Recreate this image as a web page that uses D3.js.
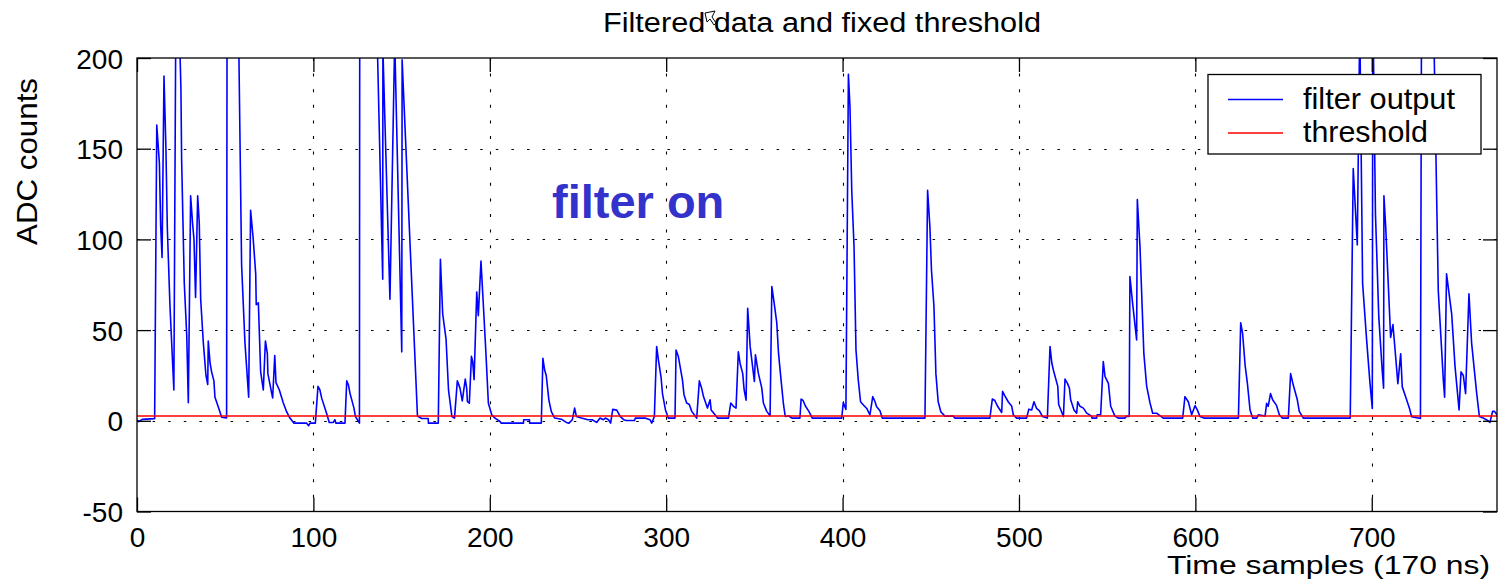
<!DOCTYPE html>
<html>
<head>
<meta charset="utf-8">
<script src="https://cdn.jsdelivr.net/npm/d3@7"></script>
<style>
  html, body { margin: 0; padding: 0; background: #fff; }
  svg { display: block; font-family: "Liberation Sans", Arial, Helvetica, sans-serif; }
</style>
</head>
<body>
<svg id="chart" width="1501" height="583"></svg>
<script>
// Filter output trace: vertices of the polyline (sample index, ADC counts).
// Pulses that saturate past the axis limit are listed above 200 and clipped.
const sampleIdx = [
  0, 1, 3, 10, 11.2, 12.7, 13.4, 14.2, 15.3, 16.4, 17.2, 18.7, 20.9,
  22.1, 23.4, 24.9, 25.3, 26.8, 28.2, 29.1, 30.4, 31.5, 32.3, 33.2,
  34.4, 35.3, 36.1, 37.6, 39.1, 40.1, 40.4, 41.4, 42.3, 43.6, 44.2, 46.1, 48, 50.8,
  51.1, 57, 59.3, 61.2, 63.3, 64.4, 65.9, 67.3, 67.6, 68.8, 70.1, 71.6, 72.8, 73.9,
  74.2, 76.4, 76.9, 78.1, 78.8, 80.7, 82.9, 84.8, 86.7, 89, 96.2, 97.3, 98.1, 101.1,
  102.6, 103.7, 104.7, 107.5, 109, 111.3, 112.2, 112.8, 117.9, 118.9, 119.8, 120.8,
  123, 123.8, 126.1, 126.3, 135, 139.3, 139.4, 143.4, 146.1, 150.1, 150.3, 159,
  161.4, 165.1, 165.2, 170.8, 172, 173.3, 175.2, 176.6, 178.5, 180, 181.6, 183.1,
  184.4, 186.1, 186.9, 187.3, 188.4, 189.6, 190.3, 191.1, 192.6, 193.5, 195, 196.4,
  197.9, 199.2, 201.1, 203, 205.8, 206.5, 219.1, 219.2, 222.5, 222.6, 229.2, 230.1,
  231.1, 232, 233.5, 234.9, 236.8, 240.5, 243.4, 244.9, 246.8, 248.1, 249.1, 251.9,
  255.7, 258, 260.6, 262.5, 264.4, 265.5, 267.3, 268.5, 269.7, 272, 273.9, 275.9,
  277.4, 282.1, 282.5, 288, 290.8, 291.8, 293.3, 294.6, 295.6, 297.1, 297.9, 299.6,
  301.2, 305, 305.6, 306.9, 309.2, 310.1, 311.6, 313.1, 314.5, 317.3, 318.8, 320.1,
  321.1, 323.4, 324.9, 325.5, 327.7, 329.1, 335.3, 336.6, 338.1, 339.6, 340.9, 341.9,
  343.4, 344.2, 345.3, 346.2, 347.6, 350, 350.6, 352.3, 354.2, 355.1, 357, 358.9,
  359.9, 361.2, 362.7, 363.7, 365.1, 366.5, 367.5, 369.4, 371.3, 375.8, 376.5, 377.6,
  379, 380.9, 382.8, 399.5, 400.4, 401.9, 403.3, 404.2, 405.2, 406.5, 407.6, 408.9,
  410.2, 411.8, 413.7, 415.5, 417.1, 418.4, 419.3, 421.2, 422.5, 446.7, 448.2, 449.5,
  450.4, 451.8, 452.9, 454.2, 455.7, 458, 462.7, 463.6, 483.5, 484.9, 486.3, 487.9,
  490.2, 490.7, 492, 493.9, 495.9, 496.8, 498.7, 504.3, 505.6, 507.2, 508.5, 510,
  511.6, 513.3, 516.1, 517.6, 518.6, 519.5, 522, 522.5, 525.2, 526.1, 527.4, 528.6,
  529.3, 531.2, 532.7, 533.3, 534.6, 536.5, 538.4, 541.2, 541.4, 544, 544.3, 546.3,
  547.8, 548.8, 550.7, 552, 554.4, 556.3, 560.1, 561, 562.5, 562.9, 564.4, 566.7,
  567.1, 568.6, 570.8, 572.4, 574.3, 575.8, 578, 581.8, 592.8, 594.1, 596, 597.9,
  599.8, 601.1, 602.6, 604.9, 624.4, 625.7, 626.8, 628.2, 629.5, 631, 632.5, 634.8,
  635.7, 639.5, 640.4, 641.3, 642.6, 643.8, 646, 647.6, 649.4, 652.7, 654, 655.5,
  657.8, 658.9, 661.2, 687.8, 689.5, 691.8, 693.2, 694.8, 697.1, 699, 700.3, 700.6,
  702.1, 704, 705.9, 706.7, 706.9, 707.9, 710.7, 712, 712.8, 714.8, 716.4, 717.3,
  719.2, 721.4, 722.6, 727.6, 728.3, 734.9, 737.7, 740.6, 741.3, 742.4, 745.3, 747.2,
  749.5, 750.6, 751.9, 753.2, 755.1, 756.6, 759.5, 761, 763.3, 765, 767, 768.5,
  769.6, 771
];
const adcCounts = [
  0.5, -0.5, 0.8, 1.2, 163, 142, 108, 90, 190, 150, 106, 63, 17,
  240, 240, 183, 144, 76, 47, 10, 124, 109, 100, 68,
  124, 109, 67, 43, 25, 20, 44, 32, 27, 22, 13, 7.6, 2, 1.6,
  260, 260, 86, 43, 13, 116, 100, 81, 64, 65, 27, 17, 44, 37,
  26, 15, 12.6, 36, 21, 17, 10, 5, 1.5, -1.3, -1.3, -2.7, -1.3, -1.3,
  19, 17, 12.5, 4, -0.9, -0.9, 0.6, -1.3, -1.3, 22, 20, 15,
  7, 2.4, -1.3, 260, 260, 78, 205, 67, 210, 38, 199, 2.6,
  1.3, 1.3, -1.3, -1.3, 89, 59, 45, 17, 2.4, 1.5, 22, 18,
  11, 23, 18, 10.6, 9.7, 35.5, 32.7, 22.7, 71, 58, 88, 63,
  35.5, 9.7, 3.3, 1.5, -0.4, -1.3, -1.3, 0.6, 0.6, -1.3, -1.3, 34.4,
  28, 25, 11.4, 5, 1.5, 0.9, -0.9, -1.3, 0.6, 7, 2.4, 1.5,
  0.6, 0.6, -0.9, 1.5, 0.6, 1.5, 0.6, -1.3, 6.3, 5.9, 2.4, 0.6,
  0.2, 0.2, 1.5, 1.5, 0.6, -1.3, 2.4, 41, 33.5, 24, 15, 6,
  1.5, 1.5, 39, 35.4, 22.7, 14.4, 9.8, 9, 5.2, 1.5, 22, 18,
  13.5, 7, 11.6, 6, 3.3, 1.5, 1.5, 9.8, 8, 7, 38, 31.6,
  26, 17, 11.4, 62, 41, 21.7, 36.4, 26, 18, 9.8, 5.2, 2.8,
  74, 65, 54, 37, 22.7, 9, 2.4, 2.8, 1.5, 1.5, 12, 11.2,
  8, 5.2, 1.5, 1.5, 10, 6.3, 191, 173, 127, 96, 39, 22.4,
  10.5, 8.7, 6.8, 3.2, 13.3, 10.5, 7.8, 5.6, 1.5, 1.5, 127, 107,
  83, 63, 26, 10.5, 5, 2.6, 2.6, 1.5, 1.5, 12, 11.2, 8,
  4.6, 16.2, 13.8, 10.5, 8, 3.3, 1.5, 1.5, 6.4, 6, 10.5, 6.8,
  5.5, 2.4, 1.5, 41, 32, 28, 19, 9, 2.4, 23, 20.8, 18,
  11.6, 6, 4.2, 10.5, 8, 7, 4.2, 2.6, 1.5, 1.5, 3.3, 3.3,
  32.6, 24.3, 20.6, 8, 2.6, 1.5, 1.5, 2.6, 2.4, 79.5, 65, 44.6,
  122, 96, 37, 19, 9.8, 4.2, 4.2, 1.5, 1.5, 13.3, 10.5, 3.3,
  8.3, 6, 2.4, 1.5, 1.5, 54, 48, 30.6, 20.6, 5.9, 1.5, 1.5,
  3.3, 2.6, 9.6, 8, 15, 11.6, 8.5, 3.3, 1.5, 1.5, 26, 19.7,
  11.6, 5.2, 1.5, 1.5, 139, 97, 220, 76, 44.5, 20.6, 6.8, 230,
  114, 57, 28, 18, 124, 107, 46, 53, 44, 20.5, 37, 18.7,
  13.2, 6.8, 2.2, 1.3, 260, 230, 72, 22, 13, 81, 59, 30,
  6, 27, 25, 15, 70, 43, 15, 2.4, 1.5, 0.6, -0.9, 5.2,
  5.2, 3.3
];

const thresholdLevel = 2.6;
const xDomain = [0, 771];
const yDomain = [-50, 200];
const xTicks = [0, 100, 200, 300, 400, 500, 600, 700];
const yTicks = [-50, 0, 50, 100, 150, 200];

const titleText = "Filtered data and fixed threshold";
const xLabelText = "Time samples (170 ns)";
const yLabelText = "ADC counts";
const annotationText = "filter on";
const legendLabels = ["filter output", "threshold"];
const seriesColors = ["#0000ff", "#ff0000"];

const svg = d3.select("#chart");
const plot = { left: 137, top: 58, right: 1497, bottom: 511.5 };

const x = d3.scaleLinear().domain(xDomain).range([plot.left, plot.right]);
const y = d3.scaleLinear().domain(yDomain).range([plot.bottom, plot.top]);

svg.append("defs").append("clipPath").attr("id", "plot-clip")
  .append("rect")
  .attr("x", plot.left).attr("y", plot.top)
  .attr("width", plot.right - plot.left).attr("height", plot.bottom - plot.top);

// Dotted grid
const grid = svg.append("g").attr("stroke", "#000").attr("stroke-width", 1.1);
grid.selectAll("line.vgrid").data(xTicks.filter(d => d > xDomain[0]))
  .join("line").attr("class", "vgrid")
  .attr("x1", d => Math.round(x(d)) + 0.5).attr("x2", d => Math.round(x(d)) + 0.5)
  .attr("y1", plot.top).attr("y2", plot.bottom)
  .attr("stroke-dasharray", "3,12.6");
grid.selectAll("line.hgrid").data(yTicks.filter(d => d > yDomain[0] && d < yDomain[1]))
  .join("line").attr("class", "hgrid")
  .attr("y1", d => Math.round(y(d)) + 0.5).attr("y2", d => Math.round(y(d)) + 0.5)
  .attr("x1", plot.left).attr("x2", plot.right)
  .attr("stroke-dasharray", "2.5,13.1");

// Traces
const traceData = sampleIdx.map((s, i) => [s, adcCounts[i]]);
const line = d3.line().x(d => x(d[0])).y(d => y(d[1]));
const traces = svg.append("g").attr("clip-path", "url(#plot-clip)");
traces.append("path")
  .datum(traceData)
  .attr("d", line)
  .attr("fill", "none")
  .attr("stroke", seriesColors[0])
  .attr("stroke-width", 1.6)
  .attr("stroke-linejoin", "round");
traces.append("path")
  .datum([[xDomain[0], thresholdLevel], [xDomain[1], thresholdLevel]])
  .attr("d", line)
  .attr("fill", "none")
  .attr("stroke", seriesColors[1])
  .attr("stroke-width", 1.5);

// Axes with inward ticks on all four sides; plain hyphen for negatives
const plainFmt = d => String(d);
const tickFont = "28px";
const axL = svg.append("g").attr("transform", `translate(${plot.left},0)`)
  .call(d3.axisLeft(y).tickValues(yTicks).tickSize(-14).tickPadding(14).tickFormat(plainFmt));
axL.selectAll("text").attr("dy", "0.36em");
const axB = svg.append("g").attr("transform", `translate(0,${plot.bottom})`)
  .call(d3.axisBottom(x).tickValues(xTicks).tickSize(-14).tickFormat(plainFmt));
axB.selectAll("text").attr("dy", null).attr("y", 35);
const axR = svg.append("g").attr("transform", `translate(${plot.right},0)`)
  .call(d3.axisRight(y).tickValues(yTicks).tickSize(-14).tickFormat(""));
const axT = svg.append("g").attr("transform", `translate(0,${plot.top})`)
  .call(d3.axisTop(x).tickValues(xTicks).tickSize(-14).tickFormat(""));
[axL, axB, axR, axT].forEach(a => {
  a.select(".domain").remove();
  a.selectAll("line").attr("stroke", "#000").attr("stroke-width", 1.3);
  a.selectAll("text").attr("font-size", tickFont).attr("fill", "#000")
    .attr("font-family", "Liberation Sans, Arial, sans-serif");
});

// Axes box
svg.append("rect")
  .attr("x", plot.left).attr("y", plot.top)
  .attr("width", plot.right - plot.left).attr("height", plot.bottom - plot.top)
  .attr("fill", "none").attr("stroke", "#000").attr("stroke-width", 1.3);

// Title
svg.append("text")
  .attr("x", 603).attr("y", 32)
  .attr("font-size", 27)
  .attr("textLength", 438).attr("lengthAdjust", "spacingAndGlyphs")
  .text(titleText);

// Pointer glyph beside the title
svg.append("path")
  .attr("transform", "translate(705,11)")
  .attr("d", "M0,2 L10,0 L7,6 L11,12 L9,14 L5,8 L2,11 Z")
  .attr("fill", "#fff").attr("stroke", "#000").attr("stroke-width", 1);

// Axis labels
svg.append("text")
  .attr("x", 1167).attr("y", 574)
  .attr("font-size", 26)
  .attr("textLength", 323).attr("lengthAdjust", "spacingAndGlyphs")
  .text(xLabelText);
svg.append("text")
  .attr("transform", "translate(37,245) rotate(-90)")
  .attr("x", 0).attr("y", 0)
  .attr("font-size", 29)
  .attr("textLength", 167).attr("lengthAdjust", "spacingAndGlyphs")
  .text(yLabelText);

// Annotation
svg.append("text")
  .attr("x", 552).attr("y", 218)
  .attr("font-size", 47).attr("font-weight", "bold")
  .attr("fill", "#3333cc")
  .text(annotationText);

// Legend
const legend = svg.append("g");
legend.append("rect")
  .attr("x", 1208).attr("y", 74.5).attr("width", 273).attr("height", 79.5)
  .attr("fill", "#fff").attr("stroke", "#000").attr("stroke-width", 1.3);
const legendRows = [99.5, 133];
const legendTextLen = [152, 125];
legendLabels.forEach((lab, i) => {
  legend.append("line")
    .attr("x1", 1228).attr("x2", 1283)
    .attr("y1", legendRows[i]).attr("y2", legendRows[i])
    .attr("stroke", seriesColors[i]).attr("stroke-width", 1.5);
  legend.append("text")
    .attr("x", 1303).attr("y", legendRows[i] + 9)
    .attr("font-size", 29)
    .attr("textLength", legendTextLen[i]).attr("lengthAdjust", "spacingAndGlyphs")
    .text(lab);
});
</script>
</body>
</html>
